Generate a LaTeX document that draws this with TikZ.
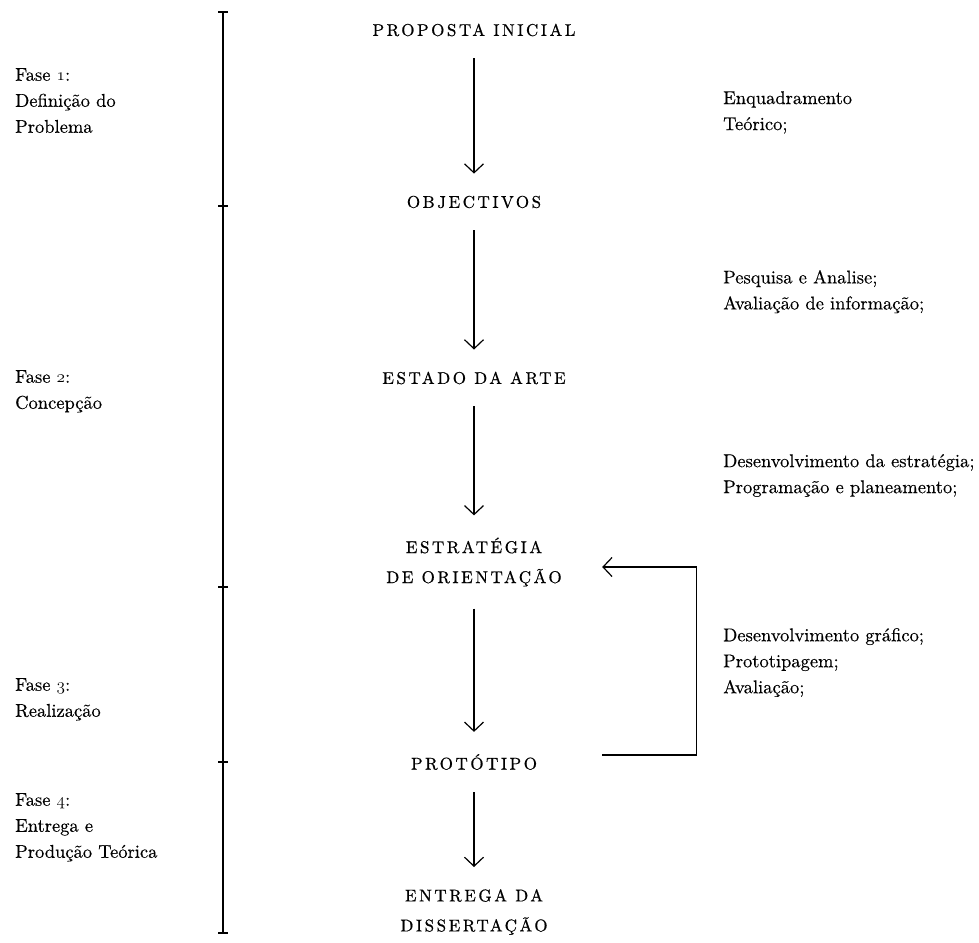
\documentclass[tikz,border=0pt]{standalone}
\usepackage{fontspec}
\usetikzlibrary{arrows.meta,positioning}
\newfontfamily\titlefont{lmroman10-regular.otf}[LetterSpace=15,FakeBold=0.6]
\newfontfamily\notefont{lmroman10-regular.otf}[FakeBold=0.3]
\newcommand\osf[1]{{\usefont{OML}{cmm}{m}{it}#1}}

\tikzset{
  stage/.style={font=\fontsize{17}{30}\selectfont\titlefont, align=center,
    inner xsep=0pt, inner ysep=22pt, minimum width=256pt},
  note/.style={font=\fontsize{18.5}{26}\selectfont\notefont, align=left,
    anchor=north west, inner sep=0pt},
  flow/.style={line width=1.2pt,
    -{Straight Barb[length=9pt,width=19pt,line width=1.2pt]}},
  phase/.style={line width=1.8pt},
}

\begin{document}
\begin{tikzpicture}[x=1pt,y=-1pt]
\useasboundingbox (0,0) rectangle (979,942);
% time line of the phases
\coordinate (top) at (223,12);
\coordinate (bot) at (223,933);
\draw[phase] (top) -- (bot);
\foreach \y in {12,206,587,762,933}
  \draw[phase] (218,\y) -- (228,\y);
% stages
\node[stage] (propo) at (474,30) {PROPOSTA INICIAL};
\node[stage] (objec) at (474,202) {OBJECTIVOS};
\node[stage] (estado) at (474,378) {ESTADO DA ARTE};
\node[stage] (estrat) at (474,562) {ESTRATÉGIA\\DE ORIENTAÇÃO};
\node[stage] (proto) at (474,762) {PROTÓTIPO};
\node[stage] (entrega) at (474,912) {ENTREGA DA\\DISSERTAÇÃO};
\draw[flow] (propo) -- (objec);
\draw[flow] (objec) -- (estado);
\draw[flow] (estado) -- (estrat);
\draw[flow] (estrat) -- (proto);
\draw[flow] (proto) -- (entrega);
\draw[flow] ([yshift=7pt]proto.east) -- ++(94,0) |- ([yshift=-5pt]estrat.east); % feedback
% phases
\node[note] (fase1) at (15,68) {Fase \osf{1}:\\Definição do\\Problema};
\node[note] (fase2) at (15,370) {Fase \osf{2}:\\Concepção};
\node[note] (fase3) at (15,678) {Fase \osf{3}:\\Realização};
\node[note] (fase4) at (15,793) {Fase \osf{4}:\\Entrega e\\Produção Teórica};
% tasks
\node[note] (task1) at (723,91) {Enquadramento\\Teórico;};
\node[note] (task2) at (723,270) {Pesquisa e Analise;\\Avaliação de informação;};
\node[note] (task3) at (723,454) {Desenvolvimento da estratégia;\\Programação e planeamento;};
\node[note] (task4) at (723,628) {Desenvolvimento gráfico;\\Prototipagem;\\Avaliação;};
\end{tikzpicture}
\end{document}
